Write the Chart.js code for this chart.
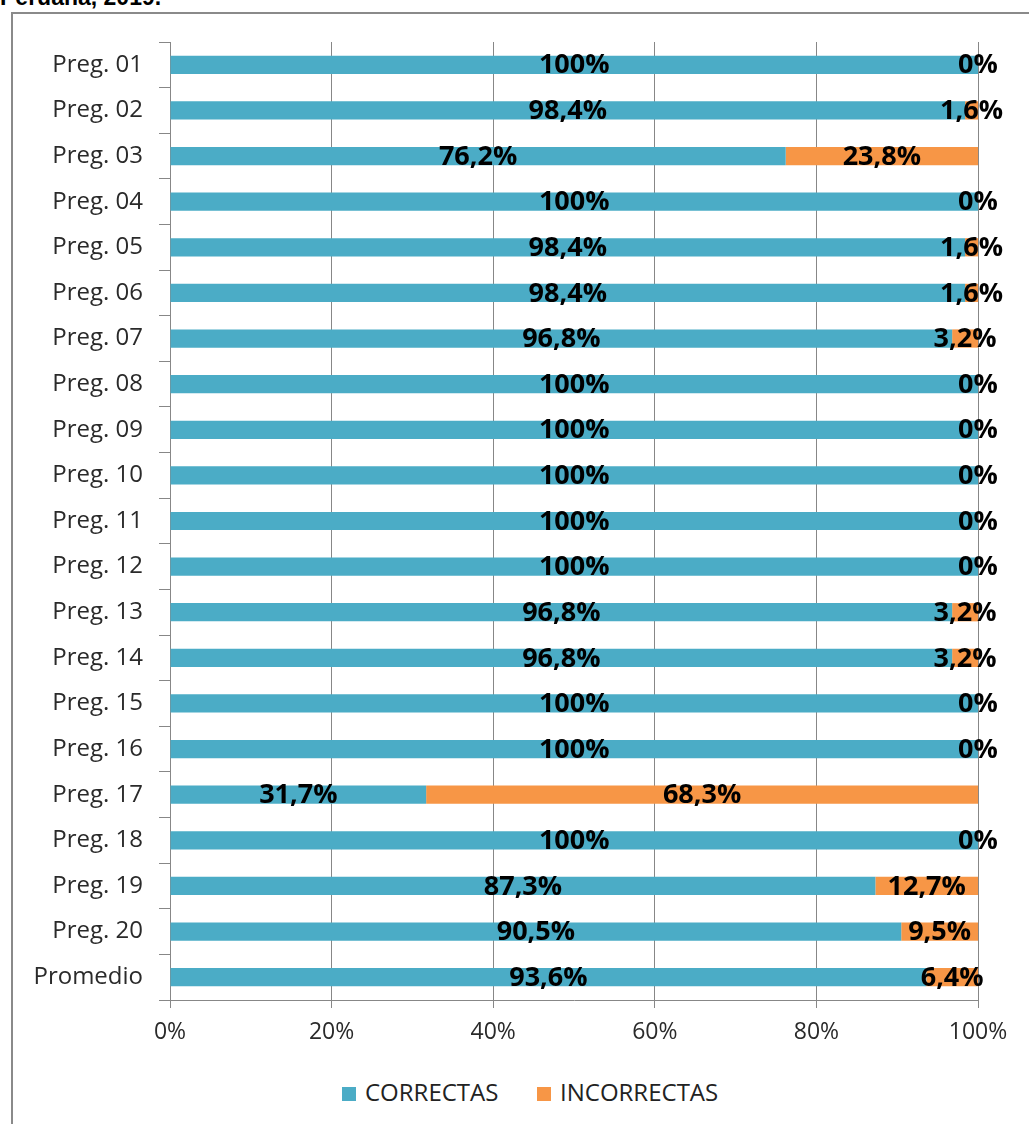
<!DOCTYPE html>
<html>
<head>
<meta charset="utf-8">
<script src="https://cdn.jsdelivr.net/npm/chart.js@4.4.0/dist/chart.umd.min.js"></script>
<style>
  body { margin: 0; width: 1029px; height: 1124px; overflow: hidden; background: #fff; position: relative; }
  #title { position: absolute; left: 0; top: -14px; font: bold 23px "Liberation Sans", Arial, sans-serif; line-height: 23px; color: #000; white-space: nowrap; }
  #frame { position: absolute; left: 11px; top: 12px; width: 1100px; height: 1200px; border: 2px solid #8a8a8a; box-sizing: border-box; }
  #chart { position: absolute; left: 0; top: 0; }
  #legend { position: absolute; top: 1078px; left: 0; font: 24px "Open Sans", sans-serif; color: #222; }
  .item { position: absolute; top: 0; white-space: nowrap; line-height: 28px; }
  .box { display: inline-block; width: 14px; height: 14px; margin-right: 9px; vertical-align: 0px; }
</style>
</head>
<body>
<div id="title">Peruana, 2019.</div>
<div id="frame"></div>
<canvas id="chart" width="1029" height="1060"></canvas>
<div id="legend"></div>
<script>
const categories = ["Preg. 01", "Preg. 02", "Preg. 03", "Preg. 04", "Preg. 05", "Preg. 06", "Preg. 07",
  "Preg. 08", "Preg. 09", "Preg. 10", "Preg. 11", "Preg. 12", "Preg. 13", "Preg. 14", "Preg. 15",
  "Preg. 16", "Preg. 17", "Preg. 18", "Preg. 19", "Preg. 20", "Promedio"];
const correctas = [100, 98.4, 76.2, 100, 98.4, 98.4, 96.8, 100, 100, 100, 100, 100, 96.8, 96.8, 100, 100, 31.7, 100, 87.3, 90.5, 93.6];
const incorrectas = [0, 1.6, 23.8, 0, 1.6, 1.6, 3.2, 0, 0, 0, 0, 0, 3.2, 3.2, 0, 0, 68.3, 0, 12.7, 9.5, 6.4];
const seriesNames = ["CORRECTAS", "INCORRECTAS"];
const seriesColors = ["#4BACC6", "#F79646"];

Chart.defaults.font.family = "'Open Sans', sans-serif";

function pct(v) {
  return String(v).replace(".", ",") + "%";
}

// labels centred on each bar segment
const barLabels = {
  id: "barLabels",
  afterDatasetsDraw(chart) {
    const ctx = chart.ctx;
    ctx.save();
    ctx.font = "bold 27px 'Open Sans', sans-serif";
    ctx.fillStyle = "#000";
    ctx.textAlign = "center";
    ctx.textBaseline = "middle";
    chart.data.datasets.forEach((ds, i) => {
      chart.getDatasetMeta(i).data.forEach((bar, j) => {
        const x = (bar.x + bar.base) / 2;
        ctx.fillText(pct(ds.data[j]), x, bar.y + 1);
      });
    });
    ctx.restore();
  }
};

const ctx = document.getElementById("chart").getContext("2d");
new Chart(ctx, {
  type: "bar",
  data: {
    labels: categories,
    datasets: [
      { label: seriesNames[0], data: correctas, backgroundColor: seriesColors[0] },
      { label: seriesNames[1], data: incorrectas, backgroundColor: seriesColors[1] }
    ]
  },
  options: {
    indexAxis: "y",
    responsive: false,
    animation: false,
    categoryPercentage: 0.4,
    barPercentage: 1,
    layout: { padding: { left: 0, right: 51, top: 42, bottom: 0 } },
    plugins: { legend: { display: false }, tooltip: { enabled: false } },
    scales: {
      x: {
        stacked: true,
        min: 0,
        max: 100,
        afterFit(scale) { scale.height = 60; },
        ticks: { stepSize: 20, callback: (v) => v + "%", color: "#2a2a2a", font: { size: 23 }, padding: 11, maxRotation: 0 },
        grid: { color: "#878787", lineWidth: 1, tickLength: 8 },
        border: { color: "#878787" }
      },
      y: {
        stacked: true,
        afterFit(scale) { scale.width = 170; },
        ticks: { color: "#2a2a2a", font: { size: 24 }, padding: 16, autoSkip: false },
        grid: { drawOnChartArea: false, offset: true, tickLength: 11, color: "#878787" },
        border: { color: "#878787" }
      }
    }
  },
  plugins: [barLabels]
});

// legend under the chart
const legend = document.getElementById("legend");
const legendX = [342, 537];
seriesNames.forEach((name, i) => {
  const item = document.createElement("div");
  item.className = "item";
  item.style.left = legendX[i] + "px";
  item.innerHTML = '<span class="box" style="background:' + seriesColors[i] + '"></span>' + name;
  legend.appendChild(item);
});
</script>
</body>
</html>
